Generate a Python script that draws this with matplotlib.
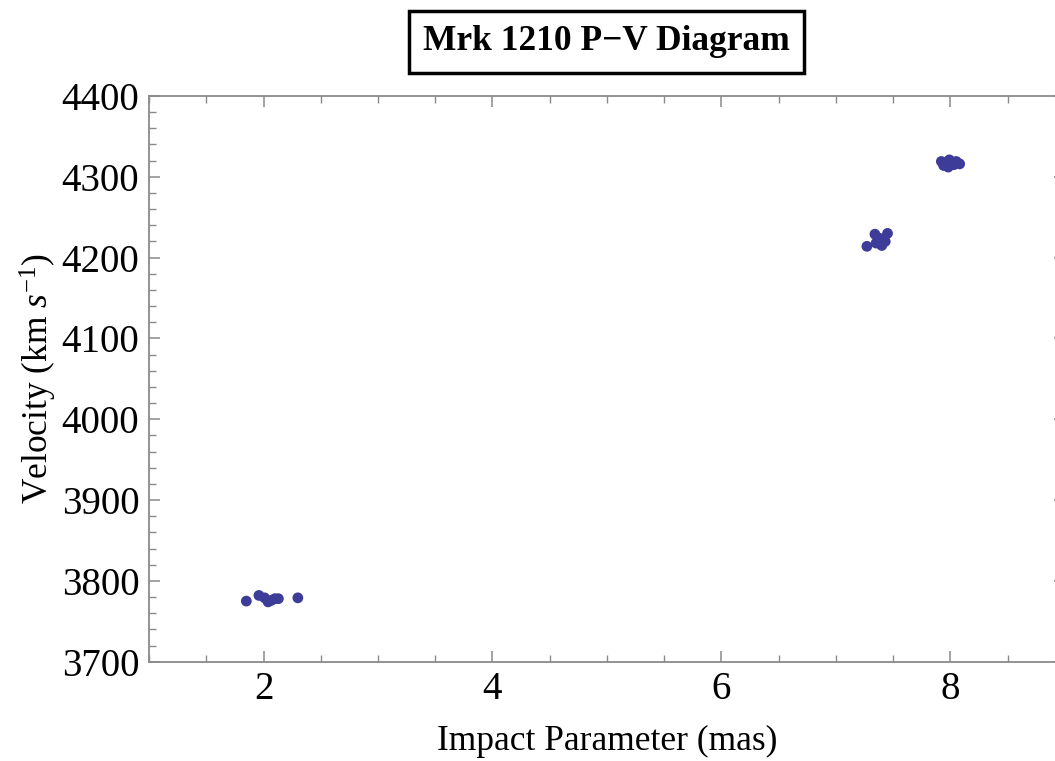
import numpy as np
import matplotlib.pyplot as plt
from matplotlib.ticker import MultipleLocator

# impact parameter (mas) and velocity (km/s)
impact = [1.85, 1.96, 2.01, 2.04, 2.07, 2.10, 2.13, 2.30,
          7.27, 7.34, 7.45, 7.38, 7.35, 7.43, 7.40,
          7.92, 7.95, 8.00, 8.05, 7.98, 8.03, 7.94, 7.99, 8.08]
velocity = [3775, 3782, 3779, 3774, 3776, 3778, 3778, 3779,
            4214, 4229, 4230, 4224, 4218, 4220, 4215,
            4319, 4317, 4319, 4319, 4312, 4315, 4314, 4321, 4316]

plt.rcParams['font.family'] = ['Liberation Serif', 'DejaVu Serif']
plt.rcParams['mathtext.fontset'] = 'custom'
plt.rcParams['mathtext.rm'] = 'Liberation Serif'
plt.rcParams['mathtext.it'] = 'Liberation Serif:italic'

fig = plt.figure(figsize=(10.55, 7.61), dpi=100)
# right edge of the frame runs just past the picture, as in the reference
ax = fig.add_axes([149/1055, 1 - 661.7/761, 916/1055, 565.7/761])

ax.scatter(impact, velocity, s=60, color='#3d3d99', edgecolors='none', zorder=3)

ax.set_xlim(1, 9)
ax.set_ylim(3700, 4400)
ax.xaxis.set_major_locator(MultipleLocator(2))
ax.xaxis.set_minor_locator(MultipleLocator(0.5))
ax.yaxis.set_major_locator(MultipleLocator(100))
ax.yaxis.set_minor_locator(MultipleLocator(20))

for s in ax.spines.values():
    s.set_color('#8a8a8a')
    s.set_linewidth(1.3)
ax.tick_params(which='both', direction='in', top=True, right=True, color='#8a8a8a',
               labelsize=28, labelcolor='black')
ax.tick_params(which='major', length=8, width=1.1, pad=7)
ax.tick_params(which='minor', length=5, width=1.0)

ax.set_xlabel('Impact Parameter (mas)', fontsize=25.5, labelpad=12)
ax.set_ylabel(r'Velocity (km $s^{-1}$)', fontsize=25.5, labelpad=2)

fig.text(0.575, 0.945, 'Mrk 1210 P\u2212V Diagram', fontsize=25.5, fontweight='bold',
         ha='center', va='center',
         bbox=dict(boxstyle='square,pad=0.4', facecolor='white', edgecolor='black', linewidth=2.5))

fig.savefig('out.png', dpi=100)
